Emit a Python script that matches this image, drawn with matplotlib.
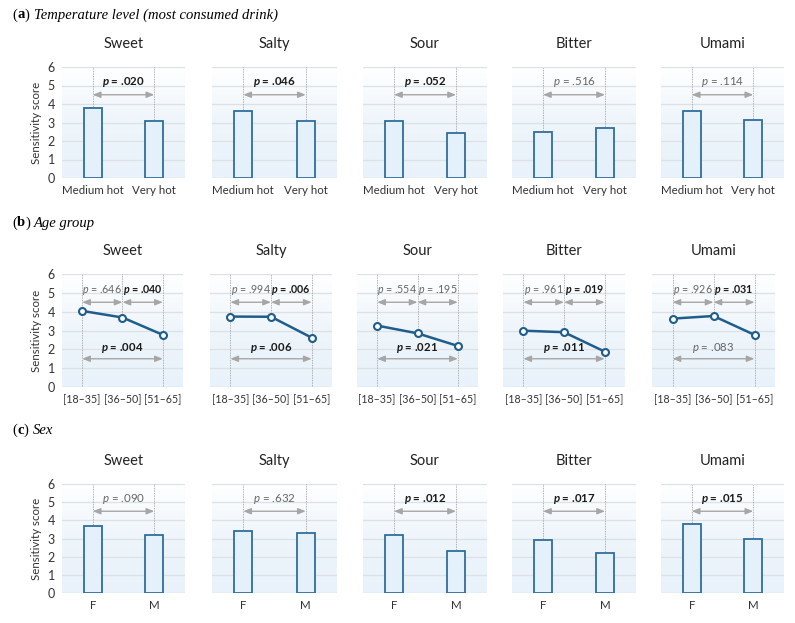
import numpy as np
import matplotlib
matplotlib.use("Agg")
import matplotlib.pyplot as plt
from matplotlib.colors import LinearSegmentedColormap

plt.rcParams['font.family'] = ['Lato', 'DejaVu Sans']
plt.rcParams['mathtext.fontset'] = 'custom'
plt.rcParams['mathtext.rm'] = 'Lato'
plt.rcParams['mathtext.it'] = 'Lato:italic'
plt.rcParams['mathtext.bf'] = 'Lato:bold'
plt.rcParams['mathtext.bfit'] = 'Lato:italic:bold'

tastes = ["Sweet", "Salty", "Sour", "Bitter", "Umami"]

temp_cats = ["Medium hot", "Very hot"]
temp_medium = [3.80, 3.62, 3.08, 2.47, 3.62]
temp_very = [3.08, 3.08, 2.45, 2.69, 3.13]
temp_p = [".020", ".046", ".052", ".516", ".114"]
temp_bold = [True, True, True, False, False]

age_cats = ["[18\u201335]", "[36\u201350]", "[51\u201365]"]
age_18_35 = [4.04, 3.74, 3.26, 2.99, 3.63]
age_36_50 = [3.69, 3.73, 2.85, 2.91, 3.77]
age_51_65 = [2.77, 2.62, 2.18, 1.88, 2.77]
age_p12 = [".646", ".994", ".554", ".961", ".926"]
age_p12_bold = [False, False, False, False, False]
age_p23 = [".040", ".006", ".195", ".019", ".031"]
age_p23_bold = [True, True, False, True, True]
age_p13 = [".004", ".006", ".021", ".011", ".083"]
age_p13_bold = [True, True, True, True, False]

sex_cats = ["F", "M"]
sex_f = [3.70, 3.41, 3.17, 2.90, 3.78]
sex_m = [3.19, 3.28, 2.31, 2.18, 2.97]
sex_p = [".090", ".632", ".012", ".017", ".015"]
sex_bold = [False, False, True, True, True]

W, H = 795, 623
fig = plt.figure(figsize=(W / 100, H / 100), dpi=100)

cols_ac = [(62, 185), (212, 337), (363, 487), (512, 636), (661, 784)]
cols_b = [(62, 183), (210, 332), (357, 478), (503, 625), (652, 775)]
rows = {"a": (67, 178), "b": (274, 387), "c": (484, 593)}

BAR_FACE = "#e4f0fa"
BAR_EDGE = "#2f6e9c"
LINE_C = "#1f5d8c"
ARROW_C = "#a6a6a6"
GRID_C = "#dde0e4"
grad = LinearSegmentedColormap.from_list("g", ["#ffffff", "#eef5fb", "#e9f2fa"])


def make_ax(x0, x1, y0, y1):
    return fig.add_axes([x0 / W, 1 - y1 / H, (x1 - x0) / W, (y1 - y0) / H])


def style(ax, ncat, first, cats, title, tfs):
    ax.set_xlim(-0.5, ncat - 0.5)
    ax.set_ylim(0, 6)
    g = np.linspace(0, 1, 256).reshape(-1, 1)
    ax.imshow(g, extent=(-0.5, ncat - 0.5, 0, 6), aspect='auto', cmap=grad,
              zorder=0, origin='upper')
    for s in ax.spines.values():
        s.set_visible(False)
    ax.set_yticks(range(7))
    for yv in range(7):
        ax.axhline(yv, color=GRID_C if yv > 0 else "#cfd3d8", lw=0.9, zorder=1)
    ax.set_xticks(range(ncat))
    ax.set_xticklabels(cats, fontsize=tfs, color="#333333")
    ax.tick_params(axis='both', length=0, pad=5)
    if first:
        ax.set_yticklabels([str(v) for v in range(7)], fontsize=9, color="#333333")
        ax.set_ylabel("Sensitivity score", fontsize=8.3, color="#333333", labelpad=4)
    else:
        ax.set_yticklabels([])
    ax.set_title(title, fontsize=10.5, color="#222222", pad=14)


def ptext(ax, x, y, val, bold, fs=8.3):
    if bold:
        s = r"$\mathbfit{p}$ = " + val
        ax.text(x, y, s, ha='center', va='center', fontsize=fs,
                fontweight='bold', color="#1a1a1a", zorder=5)
    else:
        s = r"$\mathit{p}$ = " + val
        ax.text(x, y, s, ha='center', va='center', fontsize=fs,
                color="#666666", zorder=5)


def arrow(ax, xa, xb, y):
    ax.annotate("", xy=(xb, y), xytext=(xa, y),
                arrowprops=dict(arrowstyle="<|-|>,head_length=0.45,head_width=0.18",
                                color=ARROW_C, lw=1.0, shrinkA=0, shrinkB=0),
                zorder=4)


def vline(ax, x, y0, y1):
    ax.plot([x, x], [y0, y1], color="#9a9a9a", lw=0.6, ls=(0, (1, 1)), zorder=2)


# Row a
for i, t in enumerate(tastes):
    ax = make_ax(*cols_ac[i], *rows["a"])
    style(ax, 2, i == 0, temp_cats, t, 8.3)
    vals = [temp_medium[i], temp_very[i]]
    ax.bar(range(2), vals, width=0.29, color=BAR_FACE, edgecolor=BAR_EDGE, lw=1.3, zorder=3)
    for k in range(2):
        vline(ax, k, vals[k], 6)
    arrow(ax, 0, 1, 4.5)
    ptext(ax, 0.5, 5.2, temp_p[i], temp_bold[i])

# Row b
for i, t in enumerate(tastes):
    ax = make_ax(*cols_b[i], *rows["b"])
    style(ax, 3, i == 0, age_cats, t, 7.7)
    vals = [age_18_35[i], age_36_50[i], age_51_65[i]]
    vline(ax, 0, 0, 6)
    vline(ax, 2, 0, 6)
    vline(ax, 1, min(3.8, vals[1]), 6)
    ax.plot(range(3), vals, color=LINE_C, lw=1.8, marker='o', ms=5,
            mfc='white', mec=LINE_C, mew=1.5, zorder=6)
    arrow(ax, 0, 1, 4.5)
    arrow(ax, 1, 2, 4.5)
    arrow(ax, 0, 2, 1.5)
    ptext(ax, 0.5, 5.15, age_p12[i], age_p12_bold[i], 7.7)
    ptext(ax, 1.5, 5.15, age_p23[i], age_p23_bold[i], 7.7)
    ptext(ax, 1.0, 2.05, age_p13[i], age_p13_bold[i], 8.2)

# Row c
for i, t in enumerate(tastes):
    ax = make_ax(*cols_ac[i], *rows["c"])
    style(ax, 2, i == 0, sex_cats, t, 8.3)
    vals = [sex_f[i], sex_m[i]]
    ax.bar(range(2), vals, width=0.29, color=BAR_FACE, edgecolor=BAR_EDGE, lw=1.3, zorder=3)
    for k in range(2):
        vline(ax, k, vals[k], 6)
    arrow(ax, 0, 1, 4.5)
    ptext(ax, 0.5, 5.15, sex_p[i], sex_bold[i])

serif = ['Liberation Serif', 'DejaVu Serif']
renderer = fig.canvas.get_renderer()
for lab, txt, y in [("a", "Temperature level (most consumed drink)", 15),
                    ("b", "Age group", 223), ("c", "Sex", 430)]:
    x = 12.0
    pieces = [("(", 'normal', 'normal'), (lab, 'bold', 'normal'), (")", 'normal', 'normal'),
              (txt, 'normal', 'italic')]
    for j, (s, w, st) in enumerate(pieces):
        if j == 3:
            x += 3.5
        tt = fig.text(x / W, 1 - y / H, s, family=serif, fontsize=10.5, va='center',
                      fontweight=w, style=st)
        bb = tt.get_window_extent(renderer)
        x = bb.x1 + 0.3

fig.savefig("out.png", dpi=100)
